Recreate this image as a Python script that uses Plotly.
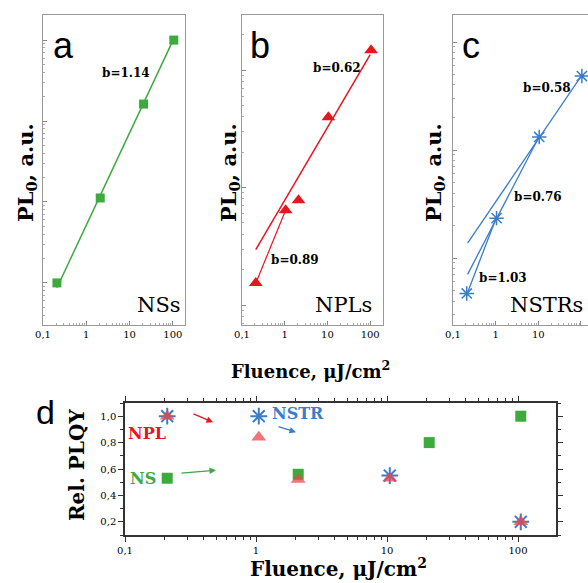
import numpy as np
import plotly.graph_objects as go

W, H = 588, 583

# ---------------- data ----------------
ns_x = [0.21, 2.1, 21, 105]
ns_pl = [1.0, 11.2, 162, 1000]
ns_b = 1.14

npl_x = [0.21, 1.05, 2.1, 10.5, 105]
npl_pl = [1.54, 6.4, 7.8, 39.8, 148]
npl_b_hi = 0.62
npl_b_lo = 0.89

nstr_x = [0.21, 1.05, 10.5, 105]
nstr_pl = [0.47, 2.34, 13.2, 48.4]
nstr_b = [1.03, 0.76, 0.58]

d_ns_x = [0.21, 2.1, 21, 105]
d_ns_y = [0.53, 0.56, 0.80, 1.0]
d_npl_x = [0.21, 1.05, 2.1, 10.5, 105]
d_npl_y = [1.0, 0.84, 0.52, 0.53, 0.2]
d_nstr_x = [0.21, 1.05, 10.5, 105]
d_nstr_y = [1.0, 1.0, 0.55, 0.2]

tick_vals = [0.1, 1, 10, 100]
tick_text = ["0,1", "1", "10", "100"]
d_yvals = [0.2, 0.4, 0.6, 0.8, 1.0]
d_ytext = ["0,2", "0,4", "0,6", "0,8", "1,0"]

GREEN = "rgb(60,170,60)"
RED = "rgb(232,20,30)"
BLUE = "rgb(58,125,200)"
NPL_D = "rgba(235,70,75,0.75)"
SERIF = "DejaVu Serif"
SANS = "Liberation Sans"

minor_log = [m * 10 ** e for e in range(-2, 4) for m in range(2, 10)]


def fit_line(xs, ys, b, idx, x0, x1):
    xs = np.array(xs, float)[idx]
    ys = np.array(ys, float)[idx]
    la = np.mean(np.log10(ys) - b * np.log10(xs))
    xx = np.array([x0, x1])
    return xx, 10 ** la * xx ** b


def px(x):
    return x / W


def py(y):
    return 1 - y / H


fig = go.Figure()

# panel a
xx, yy = fit_line(ns_x, ns_pl, ns_b, [0, 1, 2, 3], 0.21, 105)
fig.add_trace(go.Scatter(x=xx, y=yy, mode="lines", line=dict(color=GREEN, width=1.5),
                         xaxis="x", yaxis="y", showlegend=False))
fig.add_trace(go.Scatter(x=ns_x, y=ns_pl, mode="markers",
                         marker=dict(symbol="square", size=9, color=GREEN),
                         xaxis="x", yaxis="y", showlegend=False))

# panel b
xx, yy = fit_line(npl_x, npl_pl, npl_b_hi, [1, 3, 4], 0.21, 100)
fig.add_trace(go.Scatter(x=xx, y=yy, mode="lines", line=dict(color=RED, width=1.5),
                         xaxis="x2", yaxis="y2", showlegend=False))
xx, yy = fit_line(npl_x, npl_pl, npl_b_lo, [0, 1], 0.21, 1.05)
fig.add_trace(go.Scatter(x=xx, y=yy, mode="lines", line=dict(color=RED, width=1.2),
                         xaxis="x2", yaxis="y2", showlegend=False))
fig.add_trace(go.Scatter(x=npl_x, y=npl_pl, mode="markers",
                         marker=dict(symbol="triangle-up", size=12, color=RED),
                         xaxis="x2", yaxis="y2", showlegend=False))

# panel c
for b, idx, x0, x1 in [(nstr_b[2], [2, 3], 0.22, 105), (nstr_b[1], [1, 2], 0.22, 10.5),
                       (nstr_b[0], [0, 1], 0.21, 1.05)]:
    xx, yy = fit_line(nstr_x, nstr_pl, b, idx, x0, x1)
    fig.add_trace(go.Scatter(x=xx, y=yy, mode="lines", line=dict(color=BLUE, width=1.3),
                             xaxis="x3", yaxis="y3", showlegend=False))
fig.add_trace(go.Scatter(x=nstr_x, y=nstr_pl, mode="markers",
                         marker=dict(symbol="asterisk-open", size=12, color=BLUE,
                                     line=dict(color=BLUE, width=1.5)),
                         xaxis="x3", yaxis="y3", showlegend=False))

# panel d
fig.add_trace(go.Scatter(x=d_ns_x, y=d_ns_y, mode="markers",
                         marker=dict(symbol="square", size=11, color=GREEN),
                         xaxis="x4", yaxis="y4", showlegend=False))
fig.add_trace(go.Scatter(x=d_nstr_x, y=d_nstr_y, mode="markers",
                         marker=dict(symbol="asterisk-open", size=14, color=BLUE,
                                     line=dict(color=BLUE, width=2)),
                         xaxis="x4", yaxis="y4", showlegend=False))
fig.add_trace(go.Scatter(x=d_npl_x, y=d_npl_y, mode="markers",
                         marker=dict(symbol="triangle-up", size=13, color=NPL_D),
                         xaxis="x4", yaxis="y4", showlegend=False))

top_x = dict(type="log", tickvals=tick_vals, ticktext=tick_text, ticks="inside", ticklen=4,
             tickcolor="#888",
             minor=dict(ticks="inside", ticklen=2, tickvals=minor_log, tickcolor="#aaa",
                        showgrid=False),
             showline=True, linecolor="#999", mirror=True, showgrid=False, zeroline=False,
             tickfont=dict(family=SERIF, size=10, color="black"), automargin=False)
top_y = dict(type="log", showticklabels=False, ticks="inside", ticklen=4, dtick=1,
             tickcolor="#888",
             minor=dict(ticks="inside", ticklen=2, tickvals=minor_log, tickcolor="#aaa",
                        showgrid=False),
             showline=True, linecolor="#999", mirror=True, showgrid=False, zeroline=False,
             automargin=False)

ydom = [py(325), py(15)]
fig.update_layout(
    width=W, height=H, margin=dict(l=0, r=0, t=0, b=0),
    paper_bgcolor="white", plot_bgcolor="white",
    xaxis=dict(top_x, domain=[px(43), px(185)], range=[-1, 2.28], anchor="y"),
    yaxis=dict(top_y, domain=ydom, range=[-0.52, 3.31], anchor="x"),
    xaxis2=dict(top_x, domain=[px(242), px(383)], range=[-1, 2.3], anchor="y2"),
    yaxis2=dict(top_y, domain=ydom, range=[-0.17, 2.47], anchor="x2"),
    xaxis3=dict(top_x, domain=[px(453), 1.0], range=[-1, 2.165], anchor="y3"),
    yaxis3=dict(top_y, domain=ydom, range=[-0.62, 2.25], anchor="x3", mirror=False),
    xaxis4=dict(type="log", domain=[px(125), px(556)], range=[-1, 2.29], anchor="y4",
                tickvals=tick_vals, ticktext=tick_text, ticks="outside", ticklen=5,
                tickcolor="#333",
                minor=dict(ticks="outside", ticklen=3, tickvals=minor_log, tickcolor="#333",
                           showgrid=False),
                showline=True, linecolor="#333", linewidth=1.5, mirror="ticks",
                showgrid=False, zeroline=False, automargin=False,
                tickfont=dict(family=SERIF, size=10, color="black")),
    yaxis4=dict(domain=[py(535), py(403)], range=[0.1, 1.1], anchor="x4",
                tickvals=d_yvals, ticktext=d_ytext, ticks="outside", ticklen=5,
                tickcolor="#333",
                minor=dict(ticks="outside", ticklen=3, dtick=0.1, tickcolor="#333",
                           showgrid=False),
                showline=True, linecolor="#333", linewidth=1.5, mirror="ticks",
                showgrid=False, zeroline=False, automargin=False,
                tickfont=dict(family=SERIF, size=10, color="black")),
)

ann = []


def txt(x, y, s, size, color="black", family=SERIF, xanchor="center", angle=0, bold=False):
    if bold:
        s = "<b>" + s + "</b>"
    ann.append(dict(x=px(x), y=py(y), xref="paper", yref="paper", text=s, showarrow=False,
                    font=dict(family=family, size=size, color=color), xanchor=xanchor,
                    yanchor="middle", textangle=angle))


# panel letters
txt(63, 45, "a", 36, family=SANS)
txt(260, 45, "b", 36, family=SANS)
txt(471, 45, "c", 36, family=SANS)
txt(45, 412, "d", 34, family=SANS)

# slopes
txt(126, 73, "b=1.14", 12, bold=True)
txt(337, 68, "b=0.62", 12, bold=True)
txt(295, 260, "b=0.89", 12, bold=True)
txt(547, 88, "b=0.58", 12, bold=True)
txt(538, 197, "b=0.76", 12, bold=True)
txt(503, 278, "b=1.03", 12, bold=True)

# sample names
txt(135, 305, "NSs", 21, xanchor="left")
txt(313, 305, "NPLs", 21, xanchor="left")
txt(508, 305, "NSTRs", 21, xanchor="left")

# y titles
for xpos in [27, 230, 435]:
    txt(xpos, 173, "PL<sub>0</sub>, a.u.", 21, angle=-90, bold=True)
txt(77, 465, "Rel. PLQY", 20, angle=-90, bold=True)

# x titles
txt(310, 370, "Fluence, μJ/cm<sup>2</sup>", 18, bold=True)
txt(338, 568, "Fluence, μJ/cm<sup>2</sup>", 20, bold=True)


def dx(p):
    return -1 + (p - 125) / 131


def dy(p):
    return 1.0 - (p - 416) / 132


# panel d labels
for s, x, y, c in [("NPL", 147, 433, RED), ("NSTR", 298, 413, BLUE), ("NS", 143, 478, GREEN)]:
    ann.append(dict(x=dx(x), y=dy(y), xref="x4", yref="y4", text="<b>" + s + "</b>",
                    showarrow=False, font=dict(family=SERIF, size=16, color=c)))

# arrows
for (tx, ty, hx, hy, c) in [(192, 413, 213, 422, RED), (277, 426, 296, 432, BLUE),
                            (180, 473, 216, 470, GREEN)]:
    ann.append(dict(x=dx(hx), y=dy(hy), ax=dx(tx), ay=dy(ty), xref="x4", yref="y4",
                    axref="x4", ayref="y4", text="", showarrow=True, arrowhead=2,
                    arrowsize=1, arrowwidth=1.3, arrowcolor=c))

fig.update_layout(annotations=ann)
fig.write_html("out.html")
